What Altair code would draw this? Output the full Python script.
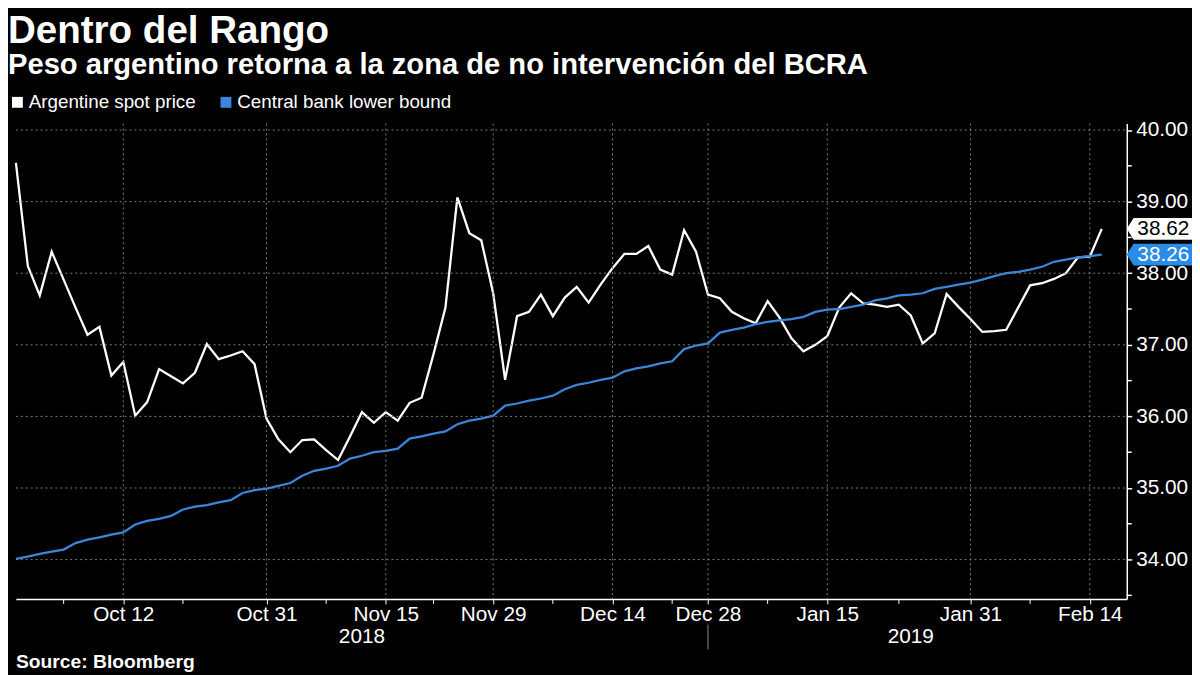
import altair as alt
import pandas as pd

# ---------------- data ----------------
series_names = ["Argentine spot price", "Central bank lower bound"]

spot = [39.54, 38.10, 37.69, 38.30, 37.91, 37.52, 37.14, 37.25, 36.57, 36.76,
        36.01, 36.20, 36.66, 36.56, 36.46, 36.61, 37.01, 36.80, 36.85, 36.91,
        36.73, 35.97, 35.68, 35.50, 35.67, 35.68, 35.53, 35.39, 35.72, 36.06,
        35.91, 36.06, 35.94, 36.19, 36.26, 36.87, 37.52, 39.06, 38.56, 38.46,
        37.72, 36.51, 37.40, 37.46, 37.70, 37.40, 37.66, 37.81, 37.59, 37.84,
        38.07, 38.27, 38.27, 38.38, 38.05, 37.98, 38.60, 38.30, 37.70, 37.65,
        37.46, 37.37, 37.30, 37.61, 37.38, 37.09, 36.91, 37.00, 37.12, 37.52,
        37.72, 37.58, 37.56, 37.53, 37.56, 37.41, 37.02, 37.16, 37.71, 37.53,
        37.36, 37.18, 37.19, 37.21, 37.52, 37.83, 37.86, 37.92, 38.00, 38.22,
        38.23, 38.62]

lower = [34.01, 34.04, 34.08, 34.11, 34.14, 34.23, 34.28, 34.31, 34.35, 34.38,
         34.49, 34.54, 34.57, 34.61, 34.70, 34.74, 34.76, 34.80, 34.83, 34.93,
         34.97, 34.99, 35.03, 35.07, 35.17, 35.24, 35.27, 35.31, 35.41, 35.45,
         35.50, 35.52, 35.55, 35.69, 35.72, 35.76, 35.79, 35.89, 35.94, 35.97,
         36.01, 36.15, 36.18, 36.22, 36.25, 36.29, 36.38, 36.44, 36.47, 36.51,
         36.54, 36.63, 36.67, 36.70, 36.74, 36.77, 36.94, 36.99, 37.02, 37.17,
         37.21, 37.24, 37.29, 37.32, 37.34, 37.36, 37.39, 37.46, 37.49, 37.50,
         37.53, 37.56, 37.62, 37.65, 37.69, 37.70, 37.72, 37.78, 37.81, 37.84,
         37.87, 37.91, 37.96, 38.00, 38.02, 38.05, 38.09, 38.16, 38.19, 38.22,
         38.24, 38.26]

# trading-day index positions of the date tick labels
tick_idx = [9, 21, 31, 40, 50, 58, 68, 80, 90]
tick_labels = ["Oct 12", "Oct 31", "Nov 15", "Nov 29", "Dec 14",
               "Dec 28", "Jan 15", "Jan 31", "Feb 14"]
minor_idx = [4, 14, 26, 35, 45, 55, 63, 74, 85]
year_labels = ["2018", "2019"]
year_pos = [29, 75]
year_break = [58]
y_major = [34, 35, 36, 37, 38, 39, 40]
y_minor = [33.5, 34.5, 35.5, 36.5, 37.5, 38.5, 39.5]

line_colors = ["#ffffff", "#3a86da"]
box_colors = ["#ffffff", "#2b8ce8"]
box_text_colors = ["#000000", "#ffffff"]

# ---------------- layout ----------------
W, H = 1124, 481
FONT = "Liberation Sans"
GRID = "#7c7c7c"

n = len(spot)
df = pd.DataFrame({
    "idx": list(range(n)) * 2,
    "value": spot + lower,
    "series": [series_names[0]] * n + [series_names[1]] * n,
})

xs = alt.Scale(domain=[0, 93.1], nice=False, zero=False)
ys = alt.Scale(domain=[33.45, 40.09], nice=False, zero=False)

label_expr = ("[" + ",".join("'%s'" % t for t in tick_labels) + "][indexof(["
              + ",".join(str(i) for i in tick_idx) + "], datum.value)]")

x_axis = alt.Axis(values=tick_idx, labelExpr=label_expr, title=None, grid=False,
                  domainColor="#ffffff", domainWidth=1.5, tickColor="#ffffff",
                  tickSize=5, tickWidth=1, labelColor="#ffffff", labelFont=FONT,
                  labelFontSize=21, labelPadding=0, labelFlush=False,
                  labelOverlap=False, zindex=0)
y_axis = alt.Axis(orient="right", values=y_major, format=".2f",
                  title=None, grid=False, domainColor="#ffffff", domainWidth=1.5,
                  tickColor="#ffffff", tickSize=5, tickWidth=1.5,
                  labelColor="#ffffff", labelFont=FONT, labelFontSize=21,
                  labelPadding=4, labelFlush=False, labelOverlap=False, zindex=0)

lines = alt.Chart(df).mark_line(strokeWidth=2.3).encode(
    x=alt.X("idx:Q", scale=xs, axis=x_axis),
    y=alt.Y("value:Q", scale=ys, axis=y_axis),
    color=alt.Color("series:N", scale=alt.Scale(domain=series_names, range=line_colors),
                    legend=alt.Legend(
                        orient="none", legendX=-8, legendY=-31, direction="horizontal",
                        title=None, symbolType="square", symbolSize=25,
                        symbolStrokeWidth=6, symbolOpacity=1, labelFont=FONT,
                        labelFontSize=19, labelColor="#ffffff", labelLimit=400,
                        columnPadding=16, labelOffset=2, padding=0)),
)

hgrid = alt.Chart(pd.DataFrame({"value": y_major})).mark_rule(
    color=GRID, strokeDash=[2, 3], strokeWidth=1
).encode(y=alt.Y("value:Q", scale=ys), x=alt.value(0), x2=alt.value(W))

yminor = alt.Chart(pd.DataFrame({"value": y_minor})).mark_rule(
    color="#ffffff", strokeWidth=1.5
).encode(y=alt.Y("value:Q", scale=ys), x=alt.value(W), x2=alt.value(W + 5))

vgrid = alt.Chart(pd.DataFrame({"idx": tick_idx})).mark_rule(
    color=GRID, strokeDash=[2, 3], strokeWidth=1
).encode(x=alt.X("idx:Q", scale=xs), y=alt.value(0), y2=alt.value(H))

minor = alt.Chart(pd.DataFrame({"idx": minor_idx})).mark_rule(
    color="#ffffff", strokeWidth=1
).encode(x=alt.X("idx:Q", scale=xs), y=alt.value(H), y2=alt.value(H + 5))

ybreak = alt.Chart(pd.DataFrame({"idx": year_break})).mark_rule(
    color="#8c8c8c", strokeWidth=1
).encode(x=alt.X("idx:Q", scale=xs), y=alt.value(H + 26), y2=alt.value(H + 51))

years = alt.Chart(pd.DataFrame({"idx": year_pos, "label": year_labels})).mark_text(
    font=FONT, fontSize=21, color="#ffffff", align="center", baseline="middle"
).encode(x=alt.X("idx:Q", scale=xs), y=alt.value(H + 39), text="label:N")

BOX = "M-1,0 L-0.79,-0.333 L1,-0.333 L1,0.333 L-0.79,0.333 Z"
end_layers = []
for name, vals, bcol, tcol in zip(series_names, [spot, lower], box_colors, box_text_colors):
    d = pd.DataFrame({"value": [vals[-1]], "label": ["%.2f" % vals[-1]]})
    end_layers.append(alt.Chart(d).mark_point(
        shape=BOX, size=66 * 66, filled=True, fill=bcol, opacity=1, strokeWidth=0
    ).encode(x=alt.value(W + 33), y=alt.Y("value:Q", scale=ys)))
    end_layers.append(alt.Chart(d).mark_text(
        font=FONT, fontSize=21, color=tcol, align="center", baseline="middle"
    ).encode(x=alt.value(W + 37), y=alt.Y("value:Q", scale=ys), text="label:N"))

source = alt.Chart(pd.DataFrame({"t": ["Source: Bloomberg"]})).mark_text(
    font=FONT, fontSize=19.5, fontWeight="bold", color="#ffffff",
    align="left", baseline="alphabetic"
).encode(x=alt.value(0), y=alt.value(H + 70), text="t:N")

chart = alt.layer(lines, hgrid, yminor, vgrid, minor, ybreak, years, *end_layers,
                  source).properties(
    width=W, height=H, padding=0, background="#000000",
    title=alt.TitleParams(
        text="Dentro del Rango",
        subtitle="Peso argentino retorna a la zona de no intervención del BCRA",
        anchor="start", font=FONT, fontSize=39, fontWeight="bold", color="#ffffff",
        subtitleFont=FONT, subtitleFontSize=29.5, subtitleFontWeight="bold",
        subtitleColor="#ffffff", subtitlePadding=0, offset=14,
    ),
).configure_view(stroke=None)

chart.save("out.html", embed_options={"renderer": "svg", "actions": False})
